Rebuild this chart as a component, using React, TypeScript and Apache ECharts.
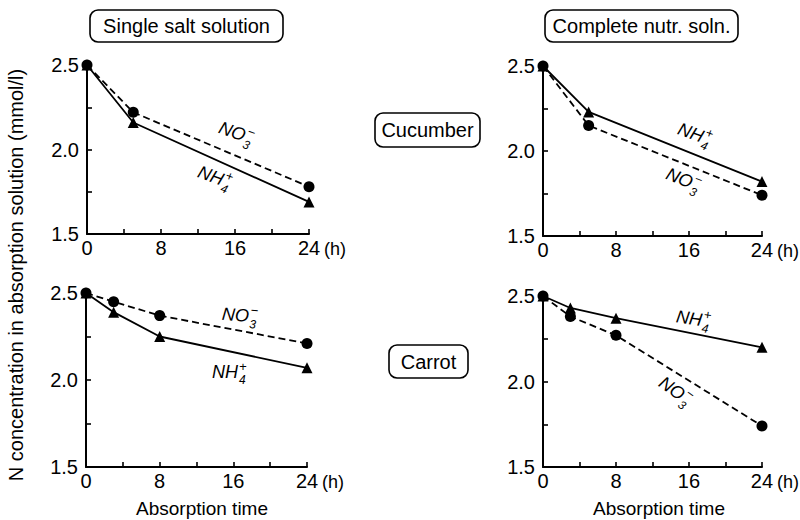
import React, { useEffect, useRef } from "react";
import * as echarts from "echarts";

// ---- data ----
const cucumberHours = [0, 5, 24];
const carrotHours = [0, 3, 8, 24];
const xTicks = [0, 8, 16, 24];
const yTicks = [1.5, 2.0, 2.5];

const cucSingleNO3 = [2.5, 2.22, 1.78];
const cucSingleNH4 = [2.5, 2.16, 1.69];
const cucCompleteNO3 = [2.5, 2.15, 1.74];
const cucCompleteNH4 = [2.5, 2.23, 1.82];
const carSingleNO3 = [2.5, 2.45, 2.37, 2.21];
const carSingleNH4 = [2.5, 2.39, 2.25, 2.07];
const carCompleteNO3 = [2.5, 2.38, 2.27, 1.74];
const carCompleteNH4 = [2.5, 2.43, 2.37, 2.2];

const columnTitles = ["Single salt solution", "Complete nutr. soln."];
const rowTitles = ["Cucumber", "Carrot"];
const yTitle = "N concentration in absorption solution (mmol/l)";
const xTitle = "Absorption time";

const FONT = "'Liberation Sans', Arial, Helvetica, sans-serif";

const grids = [
  { left: 87, top: 65, width: 222, height: 169 },
  { left: 543, top: 66, width: 221, height: 170 },
  { left: 86, top: 293, width: 221, height: 174 },
  { left: 543, top: 296, width: 220, height: 171 },
];

function zip(xs: number[], ys: number[]) {
  return xs.map((x, i) => [x, ys[i]]);
}

function ion(x: number, y: number, rotDeg: number, base: string, sub: string, sup: string) {
  return {
    type: "group",
    x,
    y,
    rotation: (rotDeg * Math.PI) / 180,
    children: [
      {
        type: "text",
        x: 0,
        y: 0,
        style: {
          text: base,
          font: `italic 18px ${FONT}`,
          fill: "#000",
          align: "right",
          verticalAlign: "middle",
        },
      },
      {
        type: "text",
        x: 1,
        y: 8,
        style: {
          text: sub,
          font: `italic 12px ${FONT}`,
          fill: "#000",
          align: "left",
          verticalAlign: "middle",
        },
      },
      {
        type: "text",
        x: 1,
        y: -6,
        style: {
          text: sup,
          font: `italic 13px ${FONT}`,
          fill: "#000",
          align: "left",
          verticalAlign: "middle",
        },
      },
    ],
  };
}

function box(x: number, y: number, w: number, h: number, text: string) {
  return {
    type: "group",
    x,
    y,
    children: [
      {
        type: "rect",
        shape: { x: 0, y: 0, width: w, height: h, r: 8 },
        style: { fill: "none", stroke: "#000", lineWidth: 1.6 },
      },
      {
        type: "text",
        x: w / 2,
        y: h / 2,
        style: {
          text,
          font: `20px ${FONT}`,
          fill: "#000",
          align: "center",
          verticalAlign: "middle",
        },
      },
    ],
  };
}

export default function App() {
  const ref = useRef<HTMLDivElement>(null);

  useEffect(() => {
    document.body.style.margin = "0";
    if (!ref.current) return;
    const chart = echarts.init(ref.current, null, { renderer: "svg" });

    const axisLine = { show: true, onZero: false, lineStyle: { color: "#000", width: 2 } };

    const xAxes = grids.map((_, i) => ({
      type: "value",
      gridIndex: i,
      min: xTicks[0],
      max: xTicks[xTicks.length - 1],
      interval: 8,
      axisLine,
      axisTick: { show: true, inside: true, length: 5, lineStyle: { color: "#000", width: 1.6 } },
      minorTick: { show: true, splitNumber: 2, length: 5, lineStyle: { color: "#000", width: 1.6 } },
      splitLine: { show: false },
      axisLabel: { color: "#000", fontSize: 20, fontFamily: FONT, margin: 4 },
      name: "(h)",
      nameLocation: "end",
      nameGap: 9,
      nameTextStyle: {
        color: "#000",
        fontSize: 18,
        fontFamily: FONT,
        verticalAlign: "top",
        align: "left",
        padding: [6, 0, 0, 0],
      },
    }));

    const yAxes = grids.map((_, i) => ({
      type: "value",
      gridIndex: i,
      min: yTicks[0],
      max: yTicks[yTicks.length - 1],
      interval: 0.5,
      axisLine,
      axisTick: { show: true, inside: true, length: 5, lineStyle: { color: "#000", width: 1.6 } },
      minorTick: { show: true, splitNumber: 2, length: 5, lineStyle: { color: "#000", width: 1.6 } },
      splitLine: { show: false },
      axisLabel: {
        color: "#000",
        fontSize: 20,
        fontFamily: FONT,
        margin: 8,
        formatter: (v: number) => v.toFixed(1),
      },
    }));

    const mk = (i: number, hours: number[], vals: number[], kind: "NO3" | "NH4") => ({
      type: "line",
      xAxisIndex: i,
      yAxisIndex: i,
      data: zip(hours, vals),
      symbol: kind === "NO3" ? "circle" : "triangle",
      symbolSize: 11,
      showSymbol: true,
      itemStyle: { color: "#000" },
      lineStyle: { color: "#000", width: 1.8, type: kind === "NO3" ? [7, 4] : "solid" },
      z: kind === "NO3" ? 3 : 2,
    });

    const series = [
      mk(0, cucumberHours, cucSingleNH4, "NH4"),
      mk(0, cucumberHours, cucSingleNO3, "NO3"),
      mk(1, cucumberHours, cucCompleteNH4, "NH4"),
      mk(1, cucumberHours, cucCompleteNO3, "NO3"),
      mk(2, carrotHours, carSingleNH4, "NH4"),
      mk(2, carrotHours, carSingleNO3, "NO3"),
      mk(3, carrotHours, carCompleteNH4, "NH4"),
      mk(3, carrotHours, carCompleteNO3, "NO3"),
    ];

    const graphic: any[] = [
      box(90, 10, 193, 32, columnTitles[0]),
      box(545, 10, 193, 32, columnTitles[1]),
      box(375, 113, 105, 34, rowTitles[0]),
      box(389, 345, 79, 33, rowTitles[1]),
      {
        type: "text",
        x: 16,
        y: 275,
        rotation: Math.PI / 2,
        style: {
          text: yTitle,
          font: `20px ${FONT}`,
          fill: "#000",
          align: "center",
          verticalAlign: "middle",
        },
      },
      {
        type: "text",
        x: 202,
        y: 508,
        style: { text: xTitle, font: `19px ${FONT}`, fill: "#000", align: "center", verticalAlign: "middle" },
      },
      {
        type: "text",
        x: 659,
        y: 508,
        style: { text: xTitle, font: `19px ${FONT}`, fill: "#000", align: "center", verticalAlign: "middle" },
      },
      ion(245, 136, -20, "NO", "3", "−"),
      ion(223, 180, -20, "NH", "4", "+"),
      ion(703, 137, -20, "NH", "4", "+"),
      ion(692, 183, -22, "NO", "3", "−"),
      ion(249, 316, -5, "NO", "3", "−"),
      ion(238, 372, 0, "NH", "4", "+"),
      ion(702, 320, -8, "NH", "4", "+"),
      ion(683, 396, -35, "NO", "3", "−"),
    ];

    chart.setOption({
      animation: false,
      backgroundColor: "#fff",
      grid: grids.map((g) => ({ ...g, containLabel: false })),
      xAxis: xAxes,
      yAxis: yAxes,
      series,
      graphic,
    } as any);

    return () => chart.dispose();
  }, []);

  return (
    <div
      ref={ref}
      style={{ width: 800, height: 520, position: "absolute", left: 0, top: 0 }}
    />
  );
}
